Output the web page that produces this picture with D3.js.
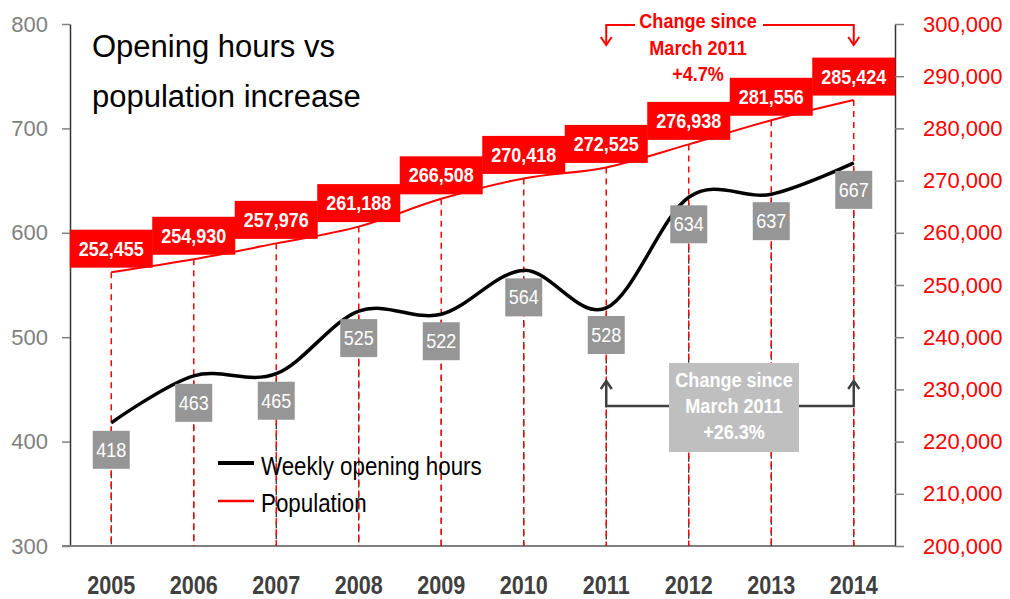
<!DOCTYPE html>
<html>
<head>
<meta charset="utf-8">
<script src="https://cdn.jsdelivr.net/npm/d3@7"></script>
<style>
  html, body { margin: 0; padding: 0; background: #fff; }
  svg { display: block; font-family: "Liberation Sans", Arial, sans-serif; }
</style>
</head>
<body>
<svg id="chart" width="1010" height="599"></svg>
<script>
const years = ["2005","2006","2007","2008","2009","2010","2011","2012","2013","2014"];
const hours = [418, 463, 465, 525, 522, 564, 528, 634, 637, 667];
const population = [252455, 254930, 257976, 261188, 266508, 270418, 272525, 276938, 281556, 285424];
const leftTicks = [300, 400, 500, 600, 700, 800];
const rightTicks = [200000, 210000, 220000, 230000, 240000, 250000, 260000, 270000, 280000, 290000, 300000];
const titleLines = ["Opening hours vs", "population increase"];
const legendLabels = ["Weekly opening hours", "Population"];
const popChangeLines = ["Change since", "March 2011", "+4.7%"];
const hoursChangeLines = ["Change since", "March 2011", "+26.3%"];
const changeFrom = "2011";
const changeTo = "2014";

const svg = d3.select("#chart");
const M = { left: 70, right: 895, top: 24, bottom: 546 };

const x = d3.scaleBand().domain(years).range([M.left, M.right]).padding(0);
const cx = d => x(d) + x.bandwidth() / 2;
const yL = d3.scaleLinear().domain([300, 800]).range([M.bottom, M.top]);
const yR = d3.scaleLinear().domain([200000, 300000]).range([M.bottom, M.top]);

function ctext(g, tx, ty, str, size, weight, fill, sx, anchor) {
  return g.append("text")
    .attr("transform", `translate(${tx},${ty}) scale(${sx},1)`)
    .attr("text-anchor", anchor || "middle")
    .attr("font-size", size)
    .attr("font-weight", weight)
    .attr("fill", fill)
    .text(str);
}

// Left axis
const gL = svg.append("g").attr("transform", `translate(${M.left},0)`)
  .call(d3.axisLeft(yL).tickValues(leftTicks).tickSize(8).tickSizeOuter(0).tickPadding(14));
gL.select(".domain").attr("stroke", "#333").attr("stroke-width", 1.5);
gL.selectAll(".tick line").attr("stroke", "#808080").attr("stroke-width", 1.5);
gL.selectAll(".tick text").attr("font-size", 22).attr("fill", "#808080")
  .attr("font-family", "'Liberation Sans', Arial, sans-serif");

// Right axis
const gR = svg.append("g").attr("transform", `translate(${M.right},0)`)
  .call(d3.axisRight(yR).tickValues(rightTicks).tickSize(9).tickSizeOuter(0).tickPadding(19).tickFormat(d3.format(",")));
gR.select(".domain").attr("stroke", "#333").attr("stroke-width", 1.5);
gR.selectAll(".tick line").attr("stroke", "#808080").attr("stroke-width", 1.5);
gR.selectAll(".tick text").attr("font-size", 22).attr("fill", "#ff0000")
  .attr("font-family", "'Liberation Sans', Arial, sans-serif");

// Bottom axis
const gB = svg.append("g").attr("transform", `translate(0,${M.bottom})`)
  .call(d3.axisBottom(x).tickSize(0).tickSizeOuter(0));
gB.select(".domain").remove();
gB.selectAll(".tick text")
  .attr("y", 48).attr("dy", 0)
  .attr("transform", "scale(0.83,1)")
  .attr("font-size", 26).attr("font-weight", "bold").attr("fill", "#404040")
  .attr("font-family", "'Liberation Sans', Arial, sans-serif");
svg.append("line").attr("x1", 62).attr("x2", M.right).attr("y1", M.bottom).attr("y2", M.bottom)
  .attr("stroke", "#808080").attr("stroke-width", 2);

// Drop lines
const drops = svg.append("g");
years.forEach((yr, i) => {
  drops.append("line").attr("x1", cx(yr)).attr("x2", cx(yr))
    .attr("y1", yL(hours[i])).attr("y2", M.bottom)
    .attr("stroke", "#222").attr("stroke-width", 1.2).attr("stroke-dasharray", "6,5").attr("stroke-dashoffset", 5.5);
  drops.append("line").attr("x1", cx(yr)).attr("x2", cx(yr))
    .attr("y1", yR(population[i])).attr("y2", M.bottom)
    .attr("stroke", "#ff0000").attr("stroke-width", 1.5).attr("stroke-dasharray", "6,5");
});

// Lines
const curve = d3.curveCatmullRom.alpha(0);
svg.append("path").datum(population)
  .attr("d", d3.line().x((d, i) => cx(years[i])).y(d => yR(d)).curve(curve))
  .attr("fill", "none").attr("stroke", "#ff0000").attr("stroke-width", 2);
svg.append("path").datum(hours)
  .attr("d", d3.line().x((d, i) => cx(years[i])).y(d => yL(d)).curve(curve))
  .attr("fill", "none").attr("stroke", "#000").attr("stroke-width", 3.5);

// Hours labels (grey boxes below points)
const hl = svg.append("g");
years.forEach((yr, i) => {
  const py = yL(hours[i]);
  hl.append("rect").attr("x", cx(yr) - 18.5).attr("y", py + 8).attr("width", 37).attr("height", 38)
    .attr("fill", "#969696");
  ctext(hl, cx(yr), py + 34, String(hours[i]), 20, "normal", "#fff", 0.9);
});

// Population labels (red boxes above points)
const pl = svg.append("g");
const fmt = d3.format(",");
years.forEach((yr, i) => {
  const py = yR(population[i]);
  pl.append("rect").attr("x", cx(yr) - 41.5).attr("y", py - 42.5).attr("width", 83).attr("height", 38)
    .attr("fill", "#ff0000");
  ctext(pl, cx(yr), py - 16.5, fmt(population[i]), 20, "bold", "#fff", 0.9);
});

// Title
const tg = svg.append("g");
titleLines.forEach((t, i) => {
  tg.append("text").attr("x", 92).attr("y", 57 + i * 50).attr("font-size", 31).attr("fill", "#000").text(t);
});

// Legend
const lg = svg.append("g");
lg.append("line").attr("x1", 218).attr("x2", 254).attr("y1", 463).attr("y2", 463)
  .attr("stroke", "#000").attr("stroke-width", 4);
lg.append("line").attr("x1", 218).attr("x2", 254).attr("y1", 501).attr("y2", 501)
  .attr("stroke", "#ff0000").attr("stroke-width", 2.5);
ctext(lg, 261, 475, legendLabels[0], 26, "normal", "#000", 0.86, "start");
ctext(lg, 261, 512, legendLabels[1], 26, "normal", "#000", 0.86, "start");

// Population change annotation (top, red)
const x0 = cx(changeFrom), x1 = cx(changeTo);
const ag = svg.append("g");
ag.append("path").attr("d", `M${x0},45 V25 H635 M763,25 H${x1} V45`)
  .attr("fill", "none").attr("stroke", "#ff0000").attr("stroke-width", 2);
[x0, x1].forEach(xx => {
  ag.append("path").attr("d", `M${xx - 5.5},37 L${xx},45 L${xx + 5.5},37`)
    .attr("fill", "none").attr("stroke", "#ff0000").attr("stroke-width", 2);
});
popChangeLines.forEach((t, i) => ctext(ag, 698, 28 + i * 26.5, t, 21, "bold", "#ff0000", 0.86));

// Hours change annotation (grey box)
const bg = svg.append("g");
bg.append("path").attr("d", `M${x0},381 V406 H669 M799,406 H${x1} V381`)
  .attr("fill", "none").attr("stroke", "#404040").attr("stroke-width", 2.5);
[x0, x1].forEach(xx => {
  bg.append("path").attr("d", `M${xx - 5.5},389 L${xx},381 L${xx + 5.5},389`)
    .attr("fill", "none").attr("stroke", "#404040").attr("stroke-width", 2.5);
});
bg.append("rect").attr("x", 669).attr("y", 363).attr("width", 130).attr("height", 89).attr("fill", "#bfbfbf");
hoursChangeLines.forEach((t, i) => ctext(bg, 734, 387 + i * 26.2, t, 21, "bold", "#fff", 0.86));
</script>
</body>
</html>
